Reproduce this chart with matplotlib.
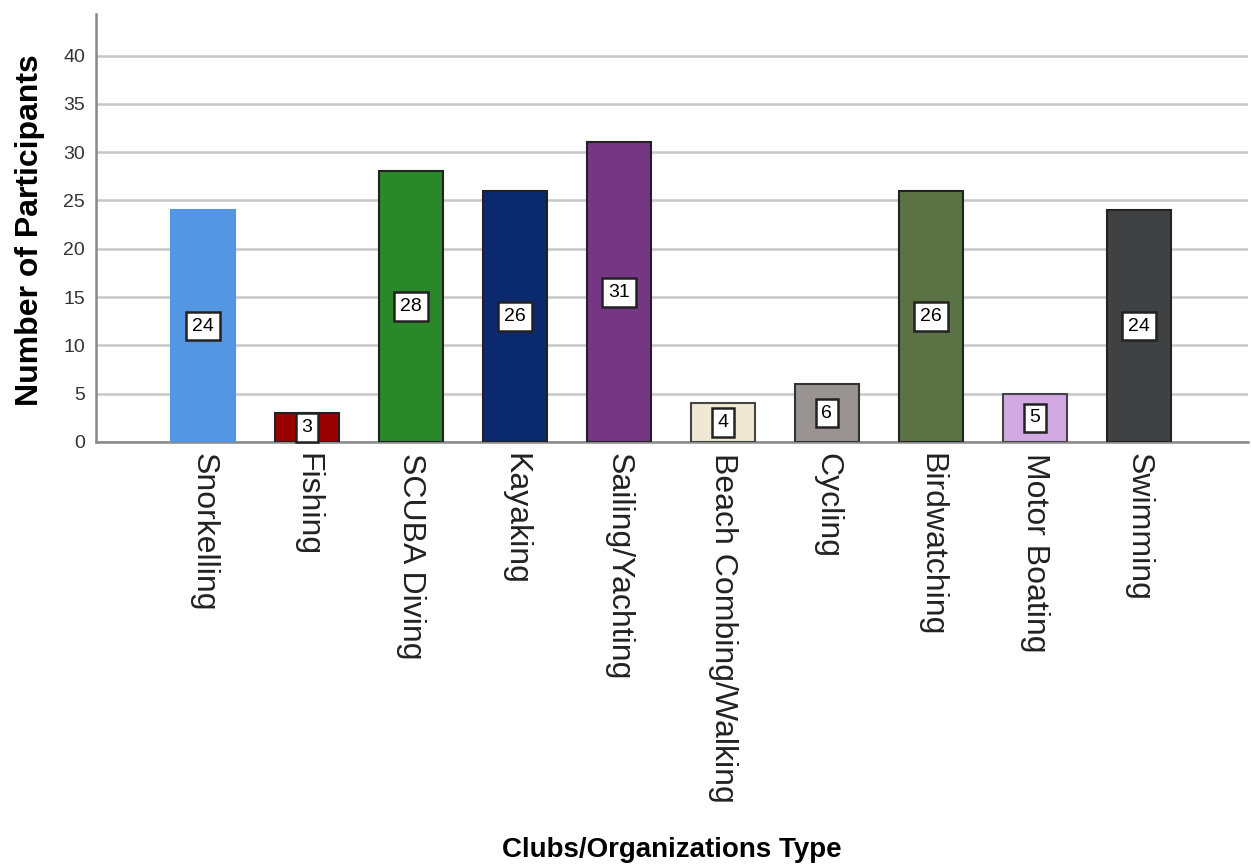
import matplotlib
matplotlib.use("Agg")
import matplotlib.pyplot as plt

categories = ['Snorkelling', 'Fishing', 'SCUBA Diving', 'Kayaking', 'Sailing/Yachting',
              'Beach Combing/Walking', 'Cycling', 'Birdwatching', 'Motor Boating', 'Swimming']
counts = [24, 3, 28, 26, 31, 4, 6, 26, 5, 24]
colors = ['#5596e2', '#990000', '#2a872a', '#0b2a6e', '#753683',
          '#efe8d2', '#999391', '#5b7245', '#d3a9e3', '#404143']
edges = ['#5596e2', '#222222', '#222222', '#222222', '#222222',
         '#444444', '#333333', '#222222', '#444444', '#222222']
yticks = [0, 5, 10, 15, 20, 25, 30, 35, 40]

fam = ['Liberation Sans', 'DejaVu Sans']

fig = plt.figure(figsize=(12.51, 8.66), dpi=100)
ax = fig.add_axes([96/1251, 1-442/866, (1248-96)/1251, (442-14)/866])

x = list(range(len(categories)))
ax.bar(x, counts, width=0.62, color=colors, edgecolor=edges, linewidth=1.5, zorder=3)

# value boxes in the middle of each bar
for xi, v in zip(x, counts):
    ax.text(xi, v / 2, str(v), ha='center', va='center', fontsize=14, family=fam,
            zorder=4, linespacing=1.0,
            bbox=dict(boxstyle='square,pad=0.3', fc='white', ec='#222222', lw=1.8))

ax.set_xlim(-1.03, 10.05)
ax.set_ylim(0, 44.3)
ax.set_yticks(yticks)
ax.set_yticklabels([str(t) for t in yticks], fontsize=14, family=fam, color='#333333')
ax.yaxis.grid(True, color='#c8c8c8', linewidth=1.8, zorder=0)
ax.set_axisbelow(True)

ax.set_xticks(x)
ax.set_xticklabels(categories, rotation=270, fontsize=23, family=fam, color='#222222',
                   va='top', ha='center')
ax.tick_params(axis='both', length=0, pad=8)

for s in ['top', 'right']:
    ax.spines[s].set_visible(False)
for s in ['left', 'bottom']:
    ax.spines[s].set_color('#888888')
    ax.spines[s].set_linewidth(1.8)

fig.text(30/1251, 1-230/866, 'Number of Participants', rotation=90, ha='center', va='center',
         fontsize=23, fontweight='bold', family=fam)
fig.text(672/1251, 1-850/866, 'Clubs/Organizations Type', ha='center', va='center',
         fontsize=20, fontweight='bold', family=fam)

fig.savefig('out.png', dpi=100)
